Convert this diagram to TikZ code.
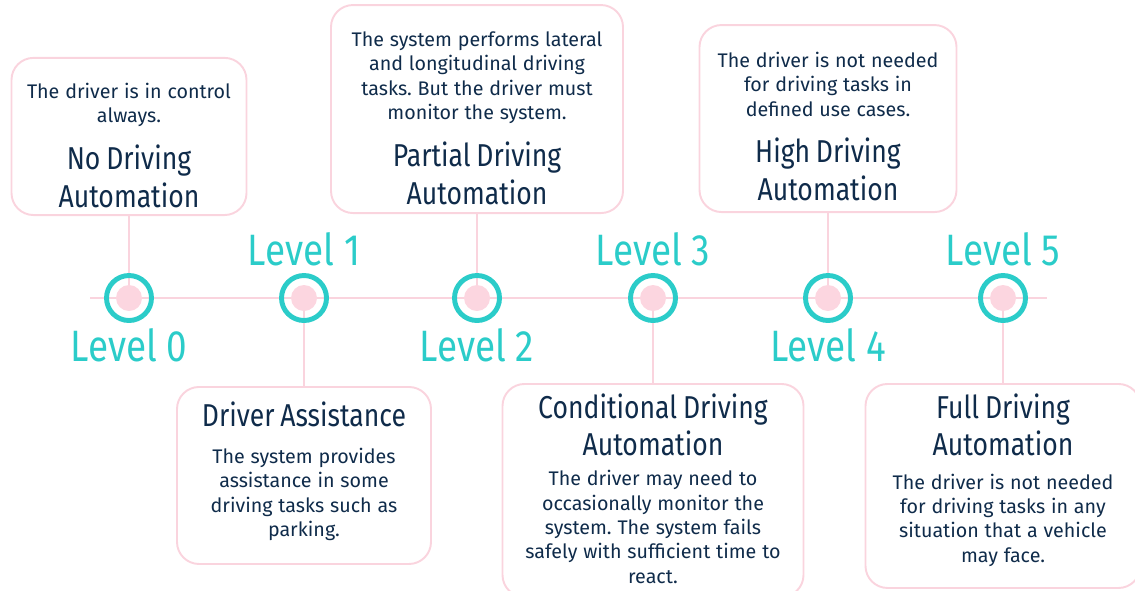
\documentclass[tikz,border=0pt]{standalone}
\usepackage{fontspec}
\setmainfont{Fira Sans}
\newfontfamily\headfont[FakeStretch=0.84]{Fira Sans}
\usetikzlibrary{positioning}
\frenchspacing
\definecolor{mypink}{rgb}{0.98,0.83,0.87}
\definecolor{mydot}{rgb}{0.99,0.84,0.88}
\definecolor{myteal}{rgb}{0.17,0.80,0.79}
\definecolor{mynavy}{rgb}{0.06,0.17,0.29}
\newcommand{\bodytext}{\fontsize{11.2}{13.9}\selectfont}
\newcommand{\headtext}{\headfont\fontsize{18}{21.5}\selectfont}

\begin{document}
\begin{tikzpicture}[
  levelbox/.style={draw=mypink, line width=1.1pt, rounded corners=0.44cm, align=center, text=mynavy, inner sep=0.15cm},
  ring/.style={circle, draw=myteal, line width=2.8pt, minimum size=0.9cm, inner sep=0pt},
  dot/.style={circle, fill=mydot, minimum size=0.52cm, inner sep=0pt},
  levellabel/.style={text=myteal, inner sep=0pt, font=\headfont\fontsize{25}{25}\selectfont},
  stem/.style={draw=mypink, line width=1.1pt}
]
\useasboundingbox (0,0) rectangle (22.7,-11.8);

% positions on the timeline
\coordinate (lv0) at (2.58,-5.96);
\coordinate (lv1) at (6.08,-5.96);
\coordinate (lv2) at (9.54,-5.96);
\coordinate (lv3) at (13.06,-5.96);
\coordinate (lv4) at (16.56,-5.96);
\coordinate (lv5) at (20.06,-5.96);
\coordinate (tl-start) at (1.80,-5.96);
\coordinate (tl-end) at (20.94,-5.96);

% Level 0
\node[levelbox, text width=4.4cm, minimum height=3.08cm, above=1.64cm of lv0]
(b0) {{\bodytext\rule{0pt}{0.66cm}The driver is in control\\ always.\par}\vspace{5pt}{\headtext No Driving\\ Automation\par}};

% Level 1
\node[levelbox, text width=4.78cm, minimum height=3.54cm, below=1.76cm of lv1]
(b1) {{\headtext Driver Assistance\par}\vspace{7pt}{\bodytext The system provides\\ assistance in some\\ driving tasks such as\\ parking.\par}\vspace*{0.16cm}};

% Level 2
\node[levelbox, text width=5.54cm, minimum height=4.16cm, above=1.68cm of lv2]
(b2) {{\bodytext\rule{0pt}{0.66cm}The system performs lateral\\ and longitudinal driving\\ tasks. But the driver must\\ monitor the system.\par}\vspace{5pt}{\headtext Partial Driving\\ Automation\par}};

% Level 3
\node[levelbox, text width=5.72cm, minimum height=4.26cm, below=1.70cm of lv3]
(b3) {{\headtext Conditional Driving\\ Automation\par}\vspace{3pt}{\bodytext The driver may need to\\ occasionally monitor the\\ system. The system fails\\ safely with sufficient time to\\ react.\par}\vspace*{0.08cm}};

% Level 4
\node[levelbox, text width=4.84cm, minimum height=3.74cm, above=1.70cm of lv4]
(b4) {{\bodytext\rule{0pt}{0.62cm}The driver is not needed\\ for driving tasks in\\ defined use cases.\par}\vspace{5pt}{\headtext High Driving\\ Automation\par}};

% Level 5
\node[levelbox, text width=5.2cm, minimum height=4.08cm, below=1.70cm of lv5]
(b5) {{\headtext Full Driving\\ Automation\par}\vspace{5pt}{\bodytext The driver is not needed\\ for driving tasks in any\\ situation that a vehicle\\ may face.\par}\vspace*{0.24cm}};

% timeline and stems
\draw[stem] (tl-start) -- (tl-end);
\foreach \i in {0,...,5}
  \draw[stem] (b\i) -- (lv\i);

% markers
\foreach \i in {0,...,5} {
  \node[dot] (dot\i) at (lv\i) {};
  \node[ring] (ring\i) at (lv\i) {};
}

% level labels
\node[levellabel, below=0.1cm of ring0] (lab0) {Level 0};
\node[levellabel, above=0.14cm of ring1] (lab1) {Level 1};
\node[levellabel, below=0.1cm of ring2] (lab2) {Level 2};
\node[levellabel, above=0.14cm of ring3] (lab3) {Level 3};
\node[levellabel, below=0.1cm of ring4] (lab4) {Level 4};
\node[levellabel, above=0.14cm of ring5] (lab5) {Level 5};

\end{tikzpicture}
\end{document}
